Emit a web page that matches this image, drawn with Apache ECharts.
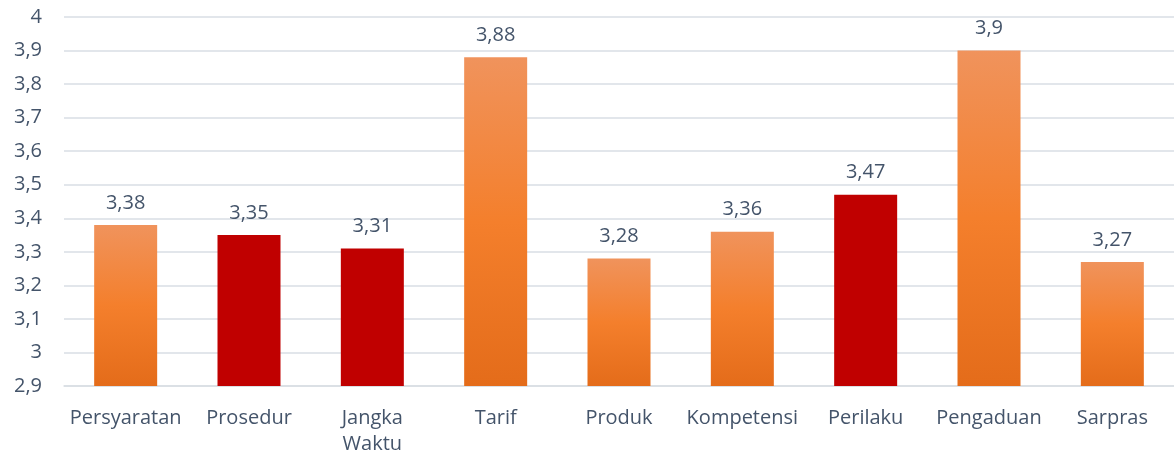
<!DOCTYPE html>
<html>
<head>
<meta charset="utf-8">
<script src="https://cdn.jsdelivr.net/npm/echarts@6/dist/echarts.min.js"></script>
<style>
  html, body { margin: 0; padding: 0; background: #fff; }
  #chart { width: 1174px; height: 461px; }
</style>
</head>
<body>
<div id="chart"></div>
<script>
const categories = ['Persyaratan', 'Prosedur', 'Jangka\nWaktu', 'Tarif', 'Produk', 'Kompetensi', 'Perilaku', 'Pengaduan', 'Sarpras'];
const values = [3.38, 3.35, 3.31, 3.88, 3.28, 3.36, 3.47, 3.9, 3.27];
// 'o' = orange gradient, 'r' = dark red
const barKinds = ['o', 'r', 'r', 'o', 'o', 'o', 'r', 'o', 'o'];

const textColor = '#44546A';
const orangeFill = new echarts.graphic.LinearGradient(0, 0, 0, 1, [
  { offset: 0, color: '#F0935C' },
  { offset: 0.5, color: '#F47F2C' },
  { offset: 1, color: '#E46C1A' }
]);
const redFill = '#C00000';

let chart = echarts.init(document.getElementById('chart'));
chart.setOption({
  animation: false,
  grid: { left: 64, right: 0, top: 17, bottom: 75 },
  xAxis: {
    type: 'category',
    data: categories,
    axisTick: { show: false },
    axisLine: { lineStyle: { color: '#D9DEE4', width: 1.5 } },
    axisLabel: {
      interval: 0,
      color: textColor,
      fontSize: 20,
      fontFamily: 'Open Sans',
      margin: 19,
      lineHeight: 26
    }
  },
  yAxis: {
    type: 'value',
    min: 2.9,
    max: 4,
    interval: 0.1,
    axisLine: { show: false },
    axisTick: { show: false },
    splitLine: { lineStyle: { color: '#D9DEE4', width: 1.5 } },
    axisLabel: {
      color: textColor,
      fontSize: 20,
      fontFamily: 'Open Sans',
      margin: 22,
      formatter: v => String(Math.round(v * 10) / 10).replace('.', ',')
    }
  },
  series: [{
    type: 'bar',
    barWidth: 63,
    data: values.map((v, i) => ({
      value: v,
      itemStyle: { color: barKinds[i] === 'r' ? redFill : orangeFill }
    })),
    label: {
      show: true,
      position: 'top',
      distance: 12,
      color: textColor,
      fontSize: 20,
      fontFamily: 'Open Sans',
      formatter: p => String(p.value).replace('.', ',')
    }
  }]
});
window.addEventListener('resize', function () {
  chart.resize();
});
</script>
</body>
</html>
